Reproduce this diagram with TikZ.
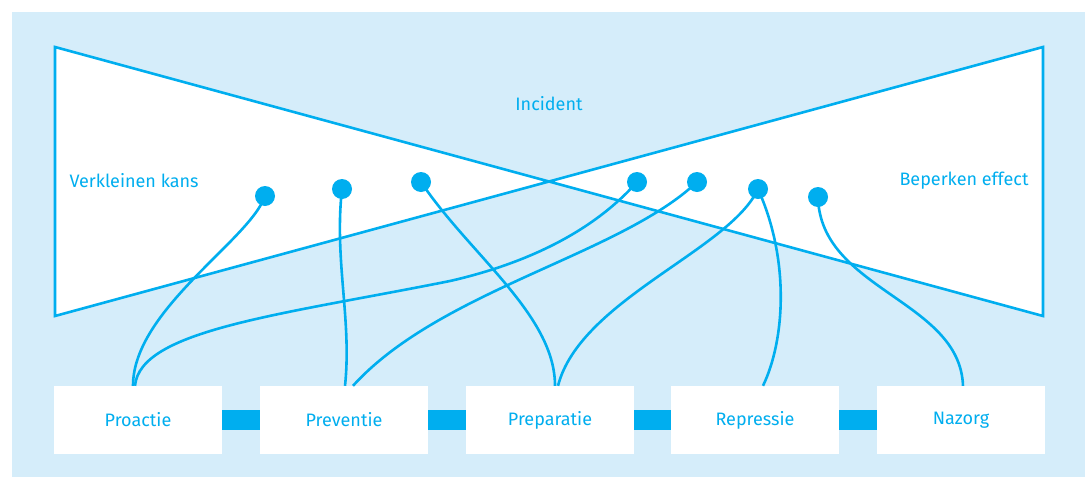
\documentclass[tikz,border=0pt]{standalone}
\usepackage{fontspec}
\setmainfont{Fira Sans}
\definecolor{cyaan}{RGB}{0,174,239}
\definecolor{lichtblauw}{RGB}{213,237,250}

\begin{document}
\begin{tikzpicture}[x=1pt,y=-1pt,
  fase/.style={fill=white,minimum width=168pt,minimum height=68pt,inner sep=0pt,text=cyaan,font=\fontsize{18}{20}\selectfont},
  label/.style={text=cyaan,font=\fontsize{18}{20}\selectfont},
  stip/.style={circle,fill=cyaan,minimum size=20pt,inner sep=0pt},
  lijn/.style={draw=cyaan,line width=2.6pt},
  balk/.style={draw=cyaan,line width=20pt}]
\useasboundingbox (0,0) rectangle (1085,477);
\fill[lichtblauw] (12,12) rectangle (1085,477);
\filldraw[fill=white,draw=cyaan,line width=2.6pt,line join=miter] (55,47) -- (1043,316) -- (1043,47) -- (55,316) -- cycle;

\node[label] (incident) at (549,104) {Incident};
\node[label] (kans) at (134,181) {Verkleinen kans};
\node[label] (effect) at (964,181) {Beperken effect};

\node[fase] (proactie) at (138,420) {Proactie};
\node[fase] (preventie) at (344,420) {Preventie};
\node[fase] (preparatie) at (550,420) {Preparatie};
\node[fase] (repressie) at (755,420) {Repressie};
\node[fase] (nazorg) at (961,420) {Nazorg};

\draw[balk] (proactie.east) -- (preventie.west);
\draw[balk] (preventie.east) -- (preparatie.west);
\draw[balk] (preparatie.east) -- (repressie.west);
\draw[balk] (repressie.east) -- (nazorg.west);

\node[stip] (s1) at (265,196) {};
\node[stip] (s2) at (342,189) {};
\node[stip] (s3) at (421,182) {};
\node[stip] (s4) at (637,182) {};
\node[stip] (s5) at (697,182) {};
\node[stip] (s6) at (758,189) {};
\node[stip] (s7) at (818,197) {};

\draw[lijn] (s1.center) .. controls (250,240) and (133,310) .. ([xshift=-5pt]proactie.north);
\draw[lijn] (s2.center) .. controls (334,260) and (352,320) .. ([xshift=1pt]preventie.north);
\draw[lijn] (s3.center) .. controls (470,255) and (555,315) .. ([xshift=5pt]preparatie.north);
\draw[lijn] (s4.center) .. controls (590,235) and (520,265) .. (450,281)
  .. controls (280,315) and (140,330) .. ([xshift=-3pt]proactie.north);
\draw[lijn] (s5.center) .. controls (620,255) and (440,290) .. ([xshift=9pt]preventie.north);
\draw[lijn] (s6.center) .. controls (730,250) and (580,300) .. ([xshift=8pt]preparatie.north);
\draw[lijn] (s6.center) .. controls (790,260) and (785,340) .. ([xshift=8pt]repressie.north);
\draw[lijn] (s7.center) .. controls (820,290) and (960,300) .. ([xshift=2pt]nazorg.north);
\end{tikzpicture}
\end{document}
